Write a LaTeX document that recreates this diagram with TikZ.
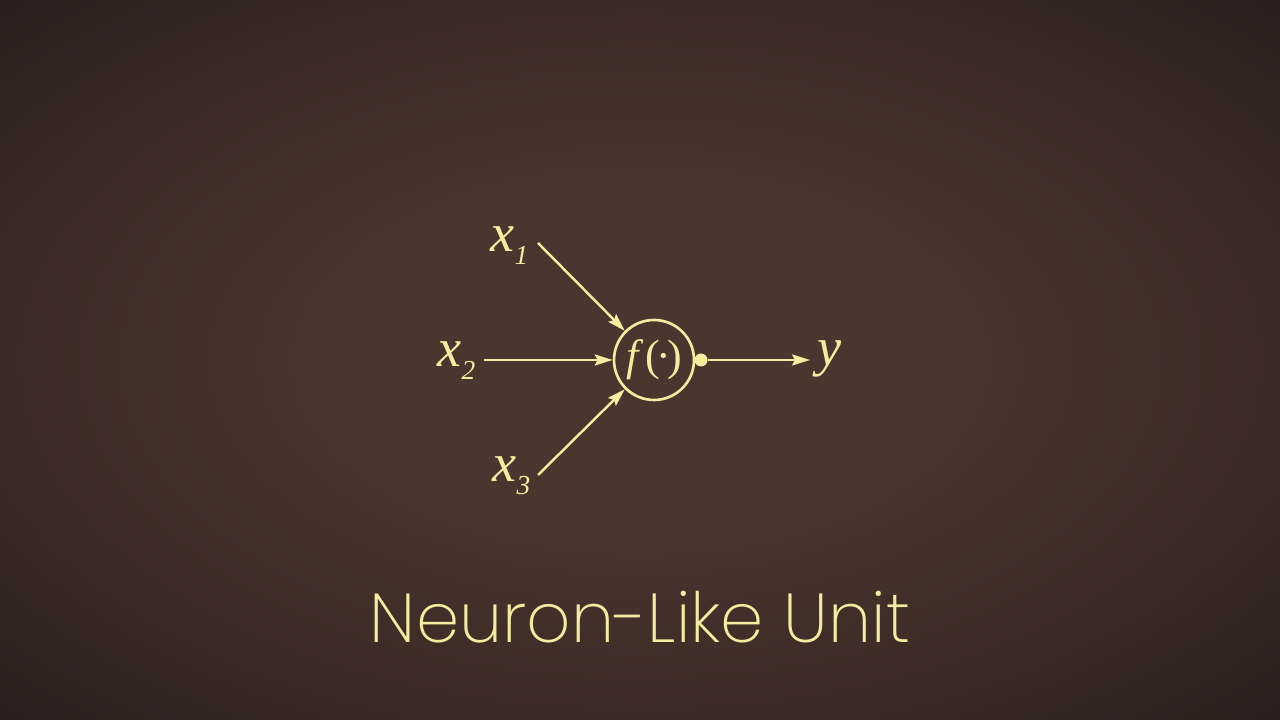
\documentclass[tikz,border=0pt]{standalone}
\usepackage{fontspec}
\setmainfont{Poppins ExtraLight}
\newfontfamily\mathserif{Liberation Serif}
\usetikzlibrary{arrows.meta,positioning}
\definecolor{UnitInk}{HTML}{F3EDA0}
\definecolor{UnitBgCenter}{HTML}{47372F}
\definecolor{UnitBgMid}{HTML}{3C2B26}
\definecolor{UnitBgEdge}{HTML}{2B201C}
\definecolor{UnitBgCorner}{HTML}{221917}
\pgfdeclareradialshading{unitvignette}{\pgfpoint{0bp}{0bp}}{%
  color(0bp)=(UnitBgCenter); color(11bp)=(UnitBgCenter);
  color(24bp)=(UnitBgMid); color(35bp)=(UnitBgEdge); color(50bp)=(UnitBgCorner)}
\newcommand{\inputvar}[1]{{\mathserif\fontsize{15.4}{16}\selectfont\itshape x%
  \raisebox{-3.7pt}{\fontsize{7.8}{8}\selectfont #1}}}
\tikzset{
  unit/cell/.style={
    draw=UnitInk, line width=.75pt, circle, minimum size=8mm, inner sep=0pt,
    text=UnitInk, font=\mathserif\fontsize{12.5}{12.5}\selectfont
  },
  unit/dot/.style={fill=UnitInk, circle, minimum size=1.3mm, inner sep=0pt},
  unit/var/.style={text=UnitInk, inner sep=0pt, anchor=base west},
  unit/arrow/.style={
    -{Stealth[length=1.8mm,width=1.1mm,inset=.3mm]}, line width=.7pt, draw=UnitInk
  },
  unit/title/.style={text=UnitInk, font=\fontsize{19.7}{21}\selectfont, anchor=base}
}
\begin{document}
\begin{tikzpicture}
  \shade[shading=unitvignette] (0,0) rectangle (12.8,7.2);
  \useasboundingbox (0,0) rectangle (12.8,7.2);
  \node[unit/cell] (cell) at (6.54,3.60) {\textit{f}\kern.5pt(\kern-1pt·\kern-1pt)};
  \node[unit/dot] (dot) at (7.01,3.60) {};
  \node[unit/var] (x1) at (4.90,4.68) {\inputvar{1}};
  \node[unit/var] (x2) at (4.37,3.53) {\inputvar{2}};
  \node[unit/var] (x3) at (4.92,2.38) {\inputvar{3}};
  \node[unit/var,font=\mathserif\fontsize{15.4}{16}\selectfont\itshape] (y) at (8.17,3.54) {y};
  \coordinate (in1) at (5.38,4.77);
  \coordinate (in2) at (4.84,3.60);
  \coordinate (in3) at (5.38,2.45);
  \coordinate (out) at (8.10,3.60);
  \draw[unit/arrow] (in1) -- (cell.135);
  \draw[unit/arrow] (in2) -- (cell.west);
  \draw[unit/arrow] (in3) -- (cell.225);
  \draw[unit/arrow] (dot) -- (out);
  \node[unit/title] (title) at (6.40,0.77) {Neuron-Like Unit};
\end{tikzpicture}
\end{document}
